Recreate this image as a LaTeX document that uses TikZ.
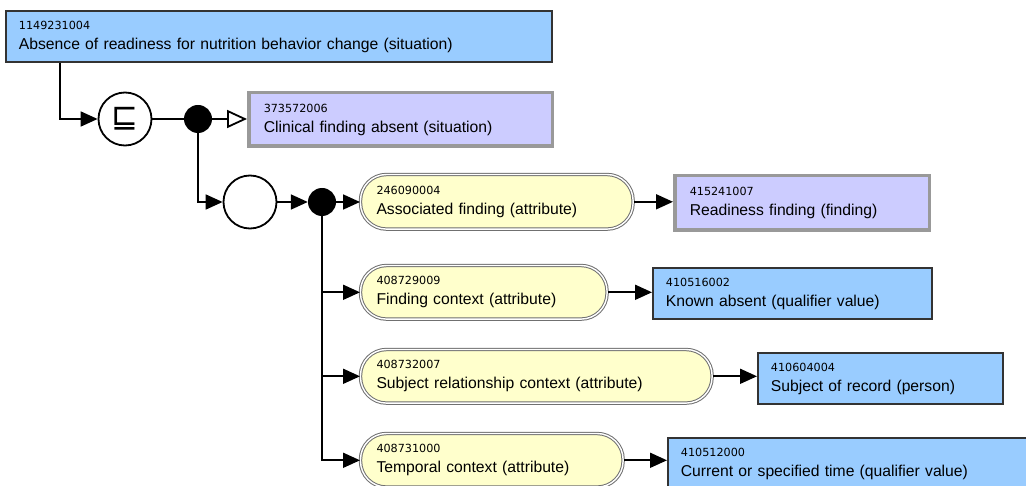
\documentclass[tikz,border=0pt]{standalone}
\usepackage{fontspec}
\setmainfont{Liberation Sans}
\newfontfamily\symfont{DejaVu Sans}
\newfontfamily\idfont{DejaVu Sans}
\usetikzlibrary{arrows.meta}
\definecolor{conceptblue}{HTML}{99CCFF}
\definecolor{primlav}{HTML}{CCCCFF}
\definecolor{attryellow}{HTML}{FFFFCC}
\definecolor{framegray}{HTML}{999999}
\definecolor{pillgray}{HTML}{707070}
% concept identifiers: small, wide digits
\newcommand\sctid[1]{{\idfont\fontsize{11.2}{12}\selectfont #1}}

\begin{document}
\begin{tikzpicture}[x=1pt,y=-1pt,
  every node/.style={inner ysep=0pt, font=\fontsize{15.7}{20}\selectfont, align=left},
  defined/.style={draw=black!80, line width=1.8pt, fill=conceptblue, anchor=north west, inner xsep=13pt},
  primitive/.style={draw=framegray, line width=3.5pt, fill=primlav, anchor=north west, inner xsep=15pt},
  attribute/.style={draw=pillgray, double=white, double distance=1.4pt, line width=1pt,
    fill=attryellow, rounded corners=26pt, anchor=north west, inner xsep=16pt},
  operator/.style={circle, draw=black, line width=1.8pt, fill=white, minimum size=53pt, inner sep=0pt},
  junction/.style={circle, fill=black, minimum size=28pt, inner sep=0pt},
  link/.style={line width=1.8pt},
  arr/.style={link, -{Triangle[length=17pt, width=15pt]}},
  openarr/.style={link, -{Triangle[length=20pt, width=18pt, fill=white]}}]

\clip (0,0) rectangle (1026,486);
\fill[white] (0,0) rectangle (1026,486);

% focus concept
\node[defined, minimum height=51.2pt, text width=520.2pt] (absence) at (5,10)
  {\sctid{1149231004}\\Absence of readiness for nutrition behavior change (situation)};

% subsumption operator and its group
\node[operator, font=\symfont\fontsize{32}{32}\selectfont] (subsumes) at (125,119) {⊑};
\node[junction] (group1) at (198,119) {};
\node[primitive, minimum height=53.5pt, text width=273.5pt] (clinical) at (247,91)
  {\sctid{373572006}\\Clinical finding absent (situation)};

% conjunction and attribute group
\node[operator] (conj) at (250,202) {};
\node[junction] (group2) at (322,202) {};

\node[attribute, minimum height=54.6pt, text width=240.6pt] (assocfinding) at (360,174)
  {\sctid{246090004}\\Associated finding (attribute)};
\node[primitive, minimum height=54.5pt, text width=224.5pt] (readiness) at (673,174)
  {\sctid{415241007}\\Readiness finding (finding)};

\node[attribute, minimum height=53.6pt, text width=214.6pt] (findingctx) at (360,265)
  {\sctid{408729009}\\Finding context (attribute)};
\node[defined, minimum height=51.2pt, text width=253.2pt] (knownabsent) at (652,267)
  {\sctid{410516002}\\Known absent (qualifier value)};

\node[attribute, minimum height=53.6pt, text width=319.6pt] (subjrelctx) at (360,349)
  {\sctid{408732007}\\Subject relationship context (attribute)};
\node[defined, minimum height=51.2pt, text width=219.2pt] (subjectrecord) at (757,352)
  {\sctid{410604004}\\Subject of record (person)};

\node[attribute, minimum height=53.6pt, text width=230.6pt] (temporalctx) at (360,433)
  {\sctid{408731000}\\Temporal context (attribute)};
\node[defined, minimum height=51.2pt, text width=352.2pt] (currenttime) at (667,437)
  {\sctid{410512000}\\Current or specified time (qualifier value)};

% connectors
\coordinate (absencedrop) at ([xshift=55pt]absence.south west);
\draw[arr] (absencedrop) |- (subsumes.west);
\draw[link] (subsumes) -- (group1);
\draw[openarr] (group1) -- (group1 -| clinical.west);
\draw[arr] (group1.south) |- (conj.west);
\draw[arr] (conj) -- (group2);
\draw[arr] (group2) -- (group2 -| assocfinding.west);
\draw[link] (group2.south) -- (group2 |- temporalctx.west);
\draw[arr] (group2.south) |- (findingctx.west);
\draw[arr] (group2.south) |- (subjrelctx.west);
\draw[arr] (group2.south) |- (temporalctx.west);
\draw[arr] (assocfinding.east) -- (assocfinding.east -| readiness.west);
\draw[arr] (findingctx.east) -- (findingctx.east -| knownabsent.west);
\draw[arr] (subjrelctx.east) -- (subjrelctx.east -| subjectrecord.west);
\draw[arr] (temporalctx.east) -- (temporalctx.east -| currenttime.west);
\end{tikzpicture}
\end{document}
